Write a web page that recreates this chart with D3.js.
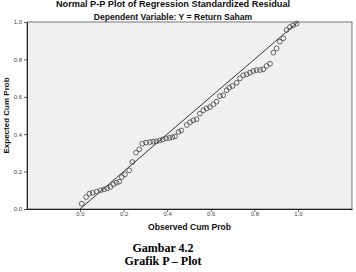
<!DOCTYPE html>
<html>
<head>
<meta charset="utf-8">
<script src="https://cdn.jsdelivr.net/npm/d3@7/dist/d3.min.js"></script>
<style>
body{margin:0;background:#fff;}
svg{display:block;font-family:"Liberation Sans",Arial,sans-serif;}
</style>
</head>
<body>
<svg id="chart"></svg>
<script>
var w=356;
var h=272;
var margin={left:27,right:4,top:22,bottom:63};

// observed cum prob / expected cum prob
var observed=[0.008,0.028,0.043,0.058,0.077,0.095,0.110,0.125,0.140,0.153,0.168,0.180,0.192,0.206,0.226,
  0.240,0.257,0.272,0.286,0.303,0.321,0.336,0.350,0.365,0.380,0.395,0.410,0.424,0.436,0.452,0.465,
  0.490,0.505,0.520,0.535,0.550,0.566,0.581,0.596,0.612,0.627,0.642,0.657,0.673,0.685,0.700,0.719,
  0.734,0.749,0.765,0.780,0.795,0.810,0.826,0.841,0.856,0.872,0.887,0.902,0.917,0.933,0.948,0.963,0.978,0.994];
var expected=[0.028,0.064,0.082,0.087,0.093,0.100,0.105,0.110,0.118,0.132,0.141,0.146,0.171,0.185,0.207,
  0.251,0.301,0.319,0.349,0.355,0.358,0.360,0.362,0.366,0.372,0.378,0.380,0.384,0.388,0.412,0.420,
  0.449,0.464,0.474,0.480,0.510,0.528,0.538,0.545,0.560,0.574,0.604,0.608,0.635,0.649,0.658,0.675,
  0.699,0.715,0.720,0.729,0.738,0.743,0.743,0.747,0.765,0.777,0.836,0.859,0.895,0.913,0.957,0.973,0.982,0.992];
var xTicks=[0.0,0.2,0.4,0.6,0.8,1.0];
var yTicks=[0.0,0.2,0.4,0.6,0.8,1.0];
var refLine=[0,1];

var points=observed.map(function(d,i){return {x:d,y:expected[i]};});

var svg=d3.select("#chart")
          .attr("width",w)
          .attr("height",h);

var xScale=d3.scaleLinear()
             .domain([-0.243,1.248])
             .range([margin.left,w-margin.right]);
var yScale=d3.scaleLinear()
             .domain([0,1])
             .range([h-margin.bottom,margin.top]);

// plot area
svg.append("rect")
   .attr("x",margin.left)
   .attr("y",margin.top)
   .attr("width",w-margin.left-margin.right)
   .attr("height",h-margin.top-margin.bottom)
   .attr("fill","#f0f0f0")
   .attr("stroke","#555")
   .attr("stroke-width",0.8);

var xAxis=d3.axisBottom(xScale)
            .tickValues(xTicks)
            .tickFormat(d3.format(".1f"))
            .tickSize(3)
            .tickSizeOuter(0);
var yAxis=d3.axisLeft(yScale)
            .tickValues(yTicks)
            .tickFormat(d3.format(".1f"))
            .tickSize(3)
            .tickSizeOuter(0);

var gx=svg.append("g")
   .attr("transform","translate(0,"+(h-margin.bottom)+")")
   .call(xAxis);
var gy=svg.append("g")
   .attr("transform","translate("+margin.left+",0)")
   .call(yAxis);
[gx,gy].forEach(function(g){
  g.select(".domain").attr("stroke","#222").attr("stroke-width",1);
  g.selectAll(".tick line").attr("stroke","#333").attr("stroke-width",0.8);
  g.selectAll(".tick text").attr("font-size","6px").attr("fill","#444")
   .attr("font-family","Liberation Sans,Arial,sans-serif");
});
gx.selectAll(".tick text").attr("dy","0.9em").attr("y",2);
gy.selectAll(".tick text").attr("x",-5);

// diagonal reference line
svg.append("line")
   .attr("x1",xScale(refLine[0]))
   .attr("y1",yScale(refLine[0]))
   .attr("x2",xScale(refLine[1]))
   .attr("y2",yScale(refLine[1]))
   .attr("stroke","#222")
   .attr("stroke-width",0.9);

svg.selectAll("circle")
   .data(points)
   .enter()
   .append("circle")
   .attr("cx",function(d){return xScale(d.x);})
   .attr("cy",function(d){return yScale(d.y);})
   .attr("r",2.4)
   .attr("fill","none")
   .attr("stroke","#444")
   .attr("stroke-width",0.8);

// titles
svg.append("text")
   .attr("x",173).attr("y",6.5)
   .attr("text-anchor","middle")
   .attr("font-size","9.2px").attr("font-weight","bold").attr("fill","#111")
   .text("Normal P-P Plot of Regression Standardized Residual");
svg.append("text")
   .attr("x",173).attr("y",20)
   .attr("text-anchor","middle")
   .attr("font-size","8.6px").attr("font-weight","bold").attr("fill","#111")
   .text("Dependent Variable: Y = Return Saham");
svg.append("text")
   .attr("x",(margin.left+w-margin.right)/2).attr("y",230)
   .attr("text-anchor","middle")
   .attr("font-size","8.6px").attr("font-weight","bold").attr("fill","#111")
   .text("Observed Cum Prob");
svg.append("text")
   .attr("transform","translate(9,"+((margin.top+h-margin.bottom)/2)+") rotate(-90)")
   .attr("text-anchor","middle")
   .attr("font-size","8px").attr("font-weight","bold").attr("fill","#111")
   .text("Expected Cum Prob");

// caption
svg.append("text")
   .attr("x",163).attr("y",252)
   .attr("text-anchor","middle")
   .attr("font-family","Liberation Serif,Times New Roman,serif")
   .attr("font-size","12px").attr("font-weight","bold").attr("fill","#000")
   .text("Gambar 4.2");
svg.append("text")
   .attr("x",163).attr("y",265)
   .attr("text-anchor","middle")
   .attr("font-family","Liberation Serif,Times New Roman,serif")
   .attr("font-size","12px").attr("font-weight","bold").attr("fill","#000")
   .text("Grafik P \u2013 Plot");
</script>
</body>
</html>
